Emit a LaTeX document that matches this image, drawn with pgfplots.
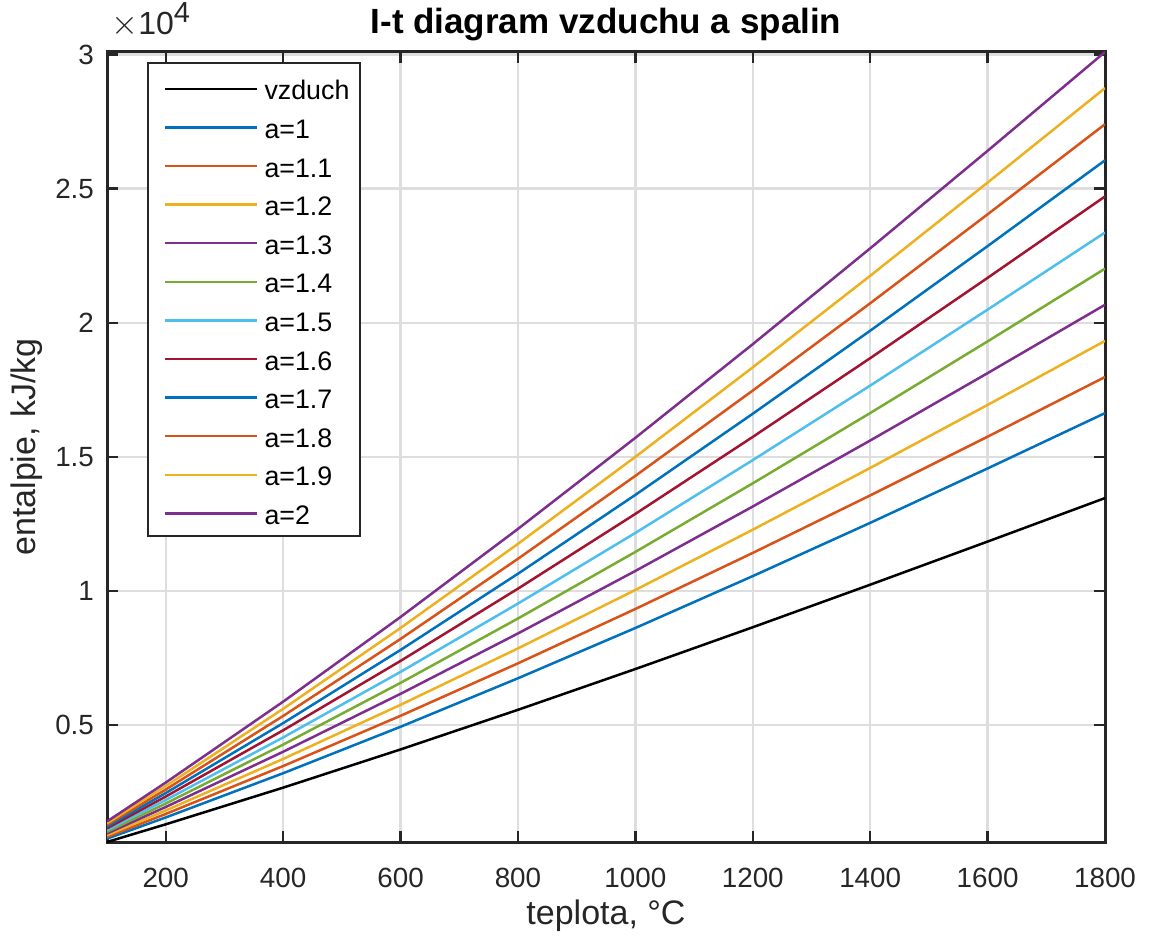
\documentclass[border=0pt]{standalone}
\usepackage{fontspec}
\setmainfont{Liberation Sans}
\usepackage{pgfplots}
\pgfplotsset{compat=1.18}
\definecolor{mc1}{rgb}{0,0.447,0.741}
\definecolor{mc2}{rgb}{0.85,0.325,0.098}
\definecolor{mc3}{rgb}{0.929,0.694,0.125}
\definecolor{mc4}{rgb}{0.494,0.184,0.556}
\definecolor{mc5}{rgb}{0.466,0.674,0.188}
\definecolor{mc6}{rgb}{0.301,0.745,0.933}
\definecolor{mc7}{rgb}{0.635,0.078,0.184}
\definecolor{axc}{rgb}{0.15,0.15,0.15}
\definecolor{gridc}{rgb}{0.87,0.87,0.87}
\begin{document}
\begin{tikzpicture}
\path[use as bounding box] (-53.5pt,-49.5pt) rectangle (523.5pt,421pt);
\begin{axis}[
  at={(0pt,0pt)}, anchor=south west,
  width=499pt, height=395pt, scale only axis=true,
  clip mode=individual,
  xmin=100, xmax=1800, ymin=641, ymax=30096,
  xtick={200,400,600,800,1000,1200,1400,1600,1800},
  xticklabels={200,400,600,800,1000,1200,1400,1600,1800},
  ytick={5000,10000,15000,20000,25000,30000},
  yticklabels={0.5,1,1.5,2,2.5,3},
  scaled y ticks=false,
  tick align=inside, tickpos=both,
  major tick length=5.5pt,
  every tick/.style={axc, line width=1.2pt},
  axis line style={axc, line width=1.5pt},
  grid=major,
  major grid style={gridc, line width=1.2pt},
  tick label style={font=\fontsize{13.9pt}{16pt}\selectfont, text=axc},
  xticklabel style={yshift=-9.3pt},
  yticklabel style={xshift=-3pt},
  xlabel={teplota, °C},
  ylabel={entalpie, kJ/kg},
  label style={font=\fontsize{17pt}{20pt}\selectfont, text=axc},
  xlabel style={at={(axis description cs:0.5,0)}, anchor=center, yshift=-37pt},
  ylabel style={at={(axis description cs:0,0.5)}, anchor=center, yshift=40pt},
  every axis title shift=0pt,
  title={I-t diagram vzduchu a spalin},
  title style={font=\bfseries\fontsize{17.5pt}{20pt}\selectfont, at={(axis description cs:0.5,1)}, anchor=base, yshift=9pt},
  legend cell align=left,
  legend image code/.code={\path (0pt,0pt); \draw[#1] (5.5pt,-0.9pt) -- (51.5pt,-0.9pt);},
  legend style={at={(rel axis cs:0,1)}, anchor=north west, xshift=20pt, yshift=-5pt,
    draw=axc, line width=1pt, fill=white,
    font=\fontsize{13.4pt}{16pt}\selectfont,
    inner xsep=2.5pt, inner ysep=2.35pt, row sep=0pt,
    nodes={inner xsep=3pt, inner ysep=0pt, text height=16.15pt, text depth=3.15pt}},
  every axis plot/.append style={line width=1.25pt},
]
\addplot[black] coordinates {(100,641) (200,1300) (400,2667) (600,4092) (800,5569) (1000,7090) (1200,8648) (1400,10234) (1600,11842) (1800,13464)};
\addlegendentry{vzduch}
\addplot[mc1] coordinates {(100,766) (200,1556) (400,3205) (600,4937) (800,6745) (1000,8620) (1200,10555) (1400,12540) (1600,14569) (1800,16632)};
\addlegendentry{a=1}
\addplot[mc2] coordinates {(100,830) (200,1686) (400,3472) (600,5346) (800,7302) (1000,9329) (1200,11420) (1400,13563) (1600,15753) (1800,17978)};
\addlegendentry{a=1.1}
\addplot[mc3] coordinates {(100,894) (200,1816) (400,3738) (600,5755) (800,7859) (1000,10038) (1200,12285) (1400,14587) (1600,16937) (1800,19325)};
\addlegendentry{a=1.2}
\addplot[mc4] coordinates {(100,958) (200,1946) (400,4005) (600,6165) (800,8416) (1000,10747) (1200,13149) (1400,15610) (1600,18122) (1800,20671)};
\addlegendentry{a=1.3}
\addplot[mc5] coordinates {(100,1022) (200,2076) (400,4272) (600,6574) (800,8973) (1000,11456) (1200,14014) (1400,16634) (1600,19306) (1800,22018)};
\addlegendentry{a=1.4}
\addplot[mc6] coordinates {(100,1087) (200,2206) (400,4539) (600,6983) (800,9530) (1000,12165) (1200,14879) (1400,17657) (1600,20490) (1800,23364)};
\addlegendentry{a=1.5}
\addplot[mc7] coordinates {(100,1151) (200,2336) (400,4805) (600,7392) (800,10086) (1000,12874) (1200,15744) (1400,18680) (1600,21674) (1800,24710)};
\addlegendentry{a=1.6}
\addplot[mc1] coordinates {(100,1215) (200,2466) (400,5072) (600,7801) (800,10643) (1000,13583) (1200,16609) (1400,19704) (1600,22858) (1800,26057)};
\addlegendentry{a=1.7}
\addplot[mc2] coordinates {(100,1279) (200,2596) (400,5339) (600,8211) (800,11200) (1000,14292) (1200,17473) (1400,20727) (1600,24043) (1800,27403)};
\addlegendentry{a=1.8}
\addplot[mc3] coordinates {(100,1343) (200,2726) (400,5605) (600,8620) (800,11757) (1000,15001) (1200,18338) (1400,21751) (1600,25227) (1800,28750)};
\addlegendentry{a=1.9}
\addplot[mc4] coordinates {(100,1407) (200,2856) (400,5872) (600,9029) (800,12314) (1000,15710) (1200,19203) (1400,22774) (1600,26411) (1800,30096)};
\addlegendentry{a=2}
\node[anchor=base west, inner sep=0pt, text=axc, font=\fontsize{16pt}{18pt}\selectfont] at (rel axis cs:0,1) [yshift=8.8pt, xshift=2pt] {$\times$10\raisebox{6pt}{\fontsize{14.5pt}{17pt}\selectfont 4}};
\end{axis}
\end{tikzpicture}
\end{document}
